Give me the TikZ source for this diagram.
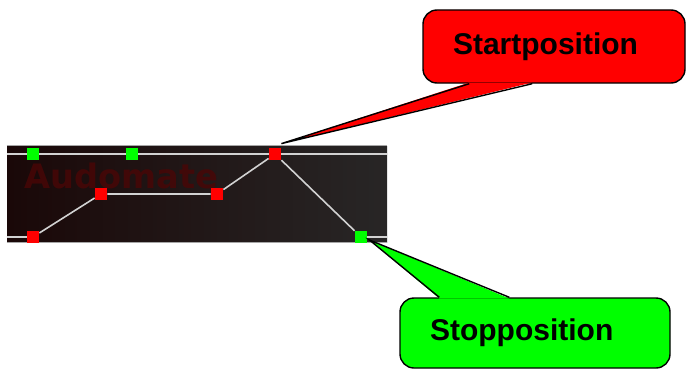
\documentclass[tikz,border=0pt]{standalone}
\usepackage{fontspec}
\setmainfont{Liberation Sans}
\newfontfamily\logofont{DejaVu Sans}
\usetikzlibrary{positioning}
\definecolor{calred}{RGB}{255,0,0}
\definecolor{calgreen}{RGB}{0,255,0}
\definecolor{railgray}{RGB}{210,210,210}
\definecolor{logored}{RGB}{74,6,6}
\definecolor{barleft}{RGB}{26,8,8}
\definecolor{barmid}{RGB}{42,14,14}
\definecolor{barright}{RGB}{40,38,38}

\begin{document}
\begin{tikzpicture}[x=0.5pt, y=-0.5pt, font=\bfseries\fontsize{15}{18}\selectfont,
        marker/.style={inner sep=0pt, minimum size=6pt},
        rail/.style={railgray, line width=1pt},
        envelope/.style={railgray, line width=0.8pt},
        callout/.style={draw=black, line width=0.7pt, rounded corners=7pt,
                        inner xsep=15pt, align=left}]
  \useasboundingbox (0,0) rectangle (688,369);
  % lane
  \node[inner sep=0pt, minimum width=190pt, minimum height=48pt,
        left color=barleft, middle color=barmid, right color=barright] (bar) at (197,194) {};
  \draw[gray!70, line width=0.5pt] (bar.north west) -- (bar.north east);
  \draw[gray!70, line width=0.5pt] (bar.south west) -- (bar.south east);
  \node[logored, opacity=0.8, font=\logofont\bfseries\fontsize{16.8}{16.8}\selectfont,
        anchor=base west, inner sep=0pt] (logo) at (24,188) {Audomate};
  % points
  \node[marker, fill=calgreen] (g1) at (33,154) {};
  \node[marker, fill=calgreen] (g2) at (132,154) {};
  \node[marker, fill=calred] (start) at (275,154) {};
  \node[marker, fill=calred] (p1) at (33,237) {};
  \node[marker, fill=calred] (p2) at (101,194) {};
  \node[marker, fill=calred] (p3) at (217,194) {};
  \node[marker, fill=calgreen] (stop) at (361,237) {};
  \draw[rail] (bar.west |- g1) -- (g1) (g1) -- (g2) (g2) -- (start) (start) -- (bar.east |- start);
  \draw[rail] (bar.west |- p1) -- (p1) (stop) -- (bar.east |- stop);
  \draw[envelope] (p1) -- (p2) -- (p3) -- (start) -- (stop);
  % callouts
  \node[callout, fill=calred, text width=101pt, minimum height=36.5pt] (startbox) at (554,46.5) {Startposition};
  \fill[calred] ([xshift=23.5pt, yshift=0.6pt]startbox.south west) -- ([yshift=2pt]start.north east)
    -- ([xshift=55pt, yshift=0.6pt]startbox.south west) -- cycle;
  \draw[line width=0.7pt] ([xshift=23.5pt]startbox.south west) -- ([yshift=2pt]start.north east)
    -- ([xshift=55pt]startbox.south west);
  \node[callout, fill=calgreen, text width=105pt, minimum height=35pt] (stopbox) at (535,333) {Stopposition};
  \fill[calgreen] ([xshift=20pt, yshift=-0.6pt]stopbox.north west) -- ([xshift=1pt, yshift=-1.5pt]stop.east)
    -- ([xshift=55pt, yshift=-0.6pt]stopbox.north west) -- cycle;
  \draw[line width=0.7pt] ([xshift=20pt]stopbox.north west) -- ([xshift=1pt, yshift=-1.5pt]stop.east)
    -- ([xshift=55pt]stopbox.north west);
\end{tikzpicture}
\end{document}
